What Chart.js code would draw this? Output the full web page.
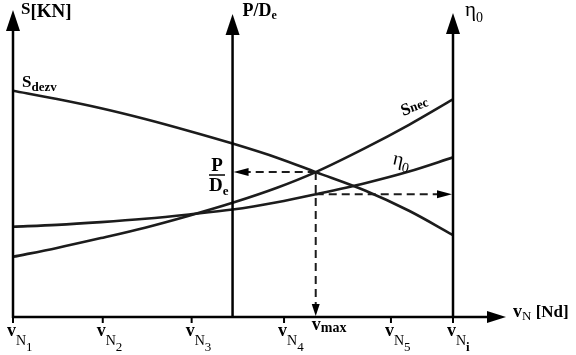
<!DOCTYPE html>
<html><head><meta charset="utf-8">
<script src="https://cdn.jsdelivr.net/npm/chart.js@4/dist/chart.umd.min.js"></script>
<style>html,body{margin:0;padding:0;background:#fff;}canvas{display:block;}</style>
</head><body>
<canvas id="c" width="576" height="355"></canvas>
<script>
// ---- data (x: 0 = vN1 .. 100 = vNi ; y: 0 = axis .. 100 = top) ----
const speeds = [0, 10, 20, 30, 40, 49.9, 60, 68.8, 80, 90, 100];
const sDezv  = [73.7, 71.0, 68.0, 64.5, 60.6, 56.5, 51.9, 47.2, 41.2, 34.6, 26.7];
const sNec   = [19.6, 22.5, 25.7, 29.1, 33.0, 37.2, 42.1, 47.2, 55.0, 62.6, 70.9];
const eta0   = [29.4, 30.0, 30.9, 32.0, 33.4, 35.0, 37.4, 40.0, 43.6, 47.4, 52.0];
const tickPositions = [0, 20.4, 40.6, 61.6, 85.9, 100];
const tickSubs = ['1', '2', '3', '4', '5', 'i'];
const vMax = 68.8;      // speed of intersection
const pdAxis = 49.9;    // position of P/De axis
const pdLevel = 47.2;   // P/De read-off level
const etaLevel = 40.0;  // eta0 read-off level

const INK = '#1c1c1c';
const pts = arr => speeds.map((x, i) => ({x, y: arr[i]}));

function rich(ctx, x, y, parts) {
  let cx = x;
  for (const [t, f, dy] of parts) {
    ctx.font = f;
    ctx.fillText(t, cx, y + (dy || 0));
    cx += ctx.measureText(t).width;
  }
}
const SERIF = '"Liberation Serif", "Times New Roman", serif';
const B = s => 'bold ' + s + 'px ' + SERIF;
const R = s => s + 'px ' + SERIF;

const decor = {
  id: 'decor',
  afterDraw(chart) {
    const {ctx, chartArea: ca} = chart;
    const xs = chart.scales.x, ys = chart.scales.y;
    const X = v => xs.getPixelForValue(v), Y = v => ys.getPixelForValue(v);
    const y0 = Y(0);
    ctx.save();
    ctx.strokeStyle = '#000'; ctx.fillStyle = '#000';
    ctx.lineWidth = 2.5; ctx.lineCap = 'butt';
    const line = (a, b, c, d) => { ctx.beginPath(); ctx.moveTo(a, b); ctx.lineTo(c, d); ctx.stroke(); };
    const tri = (p) => { ctx.beginPath(); ctx.moveTo(p[0], p[1]); ctx.lineTo(p[2], p[3]); ctx.lineTo(p[4], p[5]); ctx.closePath(); ctx.fill(); };
    // x axis
    line(X(0), y0, 490, y0);
    tri([506, y0, 487, y0 - 6, 487, y0 + 6]);
    // vertical axes
    const vax = [[X(0), ca.top], [X(pdAxis), ca.top + 4], [X(100), ca.top + 3]];
    for (const [ax, tip] of vax) {
      line(ax, y0 + 1, ax, tip + 18);
      tri([ax, tip, ax - 7, tip + 21, ax + 7, tip + 21]);
    }
    // ticks
    ctx.lineWidth = 2;
    for (const t of tickPositions) line(X(t), y0, X(t), y0 + 6);
    // dashed arrowheads
    tri([X(pdAxis) + 1, Y(pdLevel), X(pdAxis) + 16, Y(pdLevel) - 4, X(pdAxis) + 16, Y(pdLevel) + 4]);
    tri([X(vMax), y0 - 1, X(vMax) - 4, y0 - 13, X(vMax) + 4, y0 - 13]);
    tri([X(100) - 1, Y(etaLevel), X(100) - 16, Y(etaLevel) - 4, X(100) - 16, Y(etaLevel) + 4]);

    // texts
    ctx.fillStyle = '#000';
    ctx.textBaseline = 'alphabetic';
    ctx.textAlign = 'left';
    tickPositions.forEach((t, i) => {
      rich(ctx, X(t) - 6, 336, [['v', B(18), 0], ['N', R(14), 9], [tickSubs[i], tickSubs[i] === 'i' ? B(13) : R(13), 15]]);
    });
    rich(ctx, X(vMax) - 4, 330, [['v', B(18), 0], ['max', B(14), 2]]);
    rich(ctx, 513, 317, [['v', B(18), 0], ['N', R(13), 3], [' [Nd]', B(17), 0]]);
    // axis titles
    rich(ctx, X(0) + 8, 14, [['S', B(17), 0], ['[KN]', B(19), 3]]);
    rich(ctx, X(pdAxis) + 10, 16, [['P/D', B(18), 0], ['e', B(12), 3]]);
    rich(ctx, X(100) + 12, 16, [['\u03b7', R(21), 0], ['0', R(14), 6]]);
    // curve labels
    rich(ctx, X(0) + 9, 87, [['S', B(17), 0], ['dezv', B(13), 4]]);
    ctx.save();
    ctx.translate(403, 116); ctx.rotate(-0.34);
    rich(ctx, 0, 0, [['S', B(17), 0], ['nec', B(13), -1]]);
    ctx.restore();
    ctx.save();
    ctx.translate(392, 164); ctx.rotate(0.22);
    rich(ctx, 0, 0, [['\u03b7', R(20), 0], ['0', R(14), 5]]);
    ctx.restore();
    // P/De fraction at middle axis
    ctx.textAlign = 'center';
    ctx.font = B(19); ctx.fillText('P', 217, 171);
    ctx.lineWidth = 1.5; line(209, 175, 225, 175);
    ctx.textAlign = 'left';
    rich(ctx, 209, 191, [['D', B(19), 0], ['e', B(13), 4]]);
    ctx.restore();
  }
};

const dashStyle = {borderColor: INK, borderWidth: 2, borderDash: [8, 5], pointRadius: 0, showLine: true, fill: false};
const curveStyle = {borderColor: INK, borderWidth: 2.6, pointRadius: 0, showLine: true, fill: false, cubicInterpolationMode: 'monotone'};

new Chart(document.getElementById('c'), {
  type: 'scatter',
  data: {
    datasets: [
      Object.assign({label: 'S dezv', data: pts(sDezv)}, curveStyle),
      Object.assign({label: 'S nec', data: pts(sNec)}, curveStyle),
      Object.assign({label: 'eta0', data: pts(eta0)}, curveStyle),
      Object.assign({label: 'P/De', data: [{x: vMax, y: pdLevel}, {x: pdAxis + 3, y: pdLevel}]}, dashStyle),
      Object.assign({label: 'vmax', data: [{x: vMax, y: pdLevel}, {x: vMax, y: 2}]}, dashStyle),
      Object.assign({label: 'eta level', data: [{x: vMax, y: etaLevel}, {x: 97, y: etaLevel}]}, dashStyle)
    ]
  },
  options: {
    responsive: false,
    devicePixelRatio: 1,
    animation: false,
    layout: {padding: {left: 13, right: 123, top: 10, bottom: 38}},
    plugins: {legend: {display: false}, tooltip: {enabled: false}},
    scales: {
      x: {type: 'linear', min: 0, max: 100, display: false},
      y: {type: 'linear', min: 0, max: 100, display: false}
    }
  },
  plugins: [decor]
});
</script>
</body></html>
